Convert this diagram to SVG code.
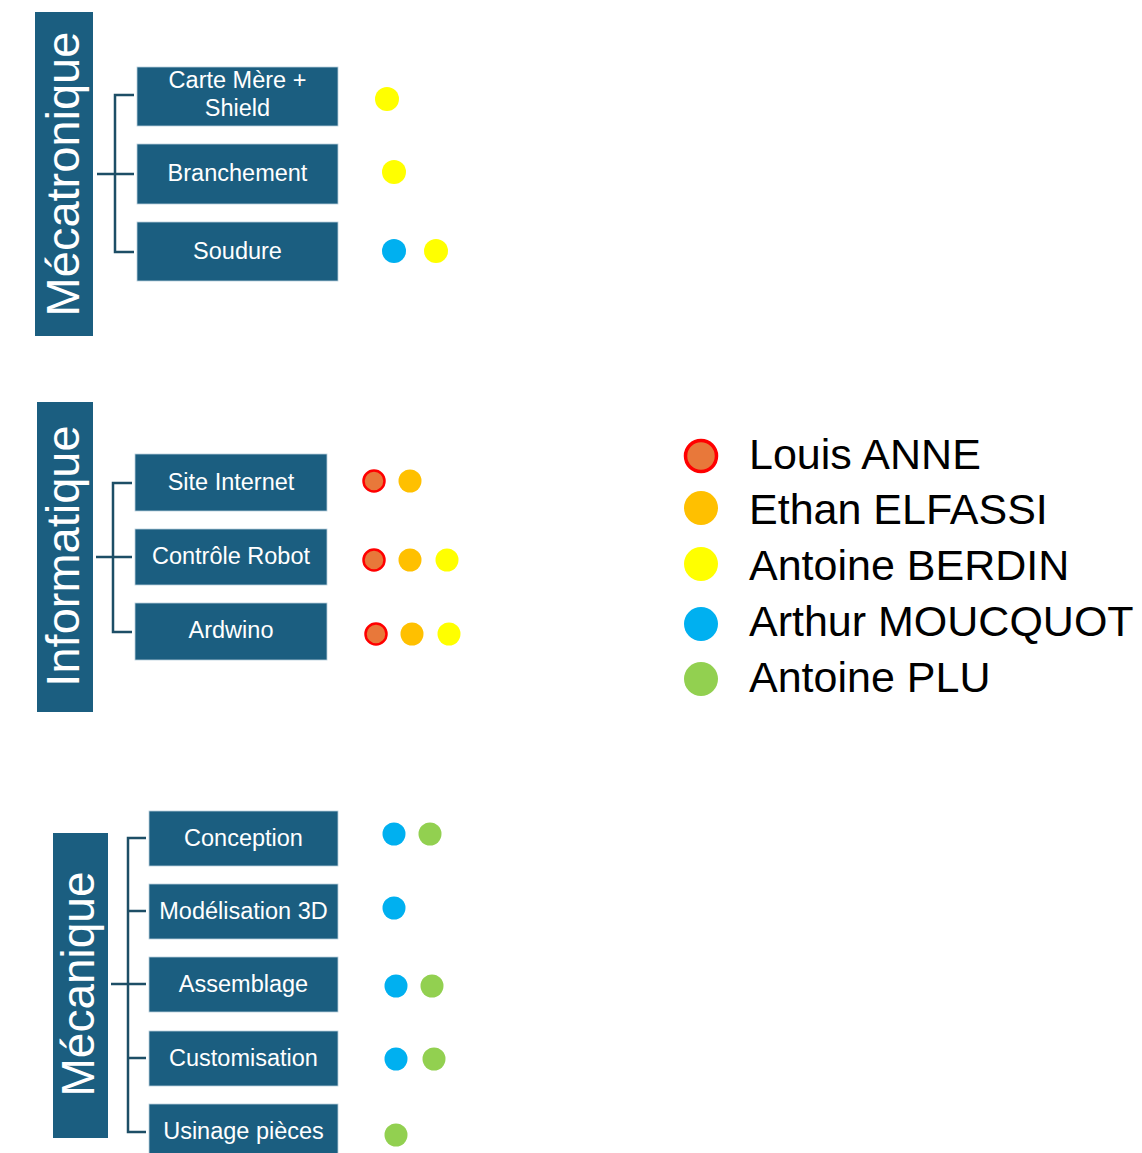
<svg xmlns="http://www.w3.org/2000/svg" width="1142" height="1153" viewBox="0 0 1142 1153">
<style>
.cat{fill:#1B5E80;}
.box{fill:#1B5E80;stroke:#b9cfdc;stroke-width:0.8;}
.ct{font-family:"Liberation Sans",Arial,sans-serif;font-size:47px;fill:#ffffff;text-anchor:middle;}
.bt{font-family:"Liberation Sans",Arial,sans-serif;font-size:23.5px;fill:#ffffff;text-anchor:middle;}
.lt{font-family:"Liberation Sans",Arial,sans-serif;font-size:43px;fill:#000000;}
.br{fill:none;stroke:#1D4E66;stroke-width:2.5;}
.y{fill:#FFFF00;}
.b{fill:#00B0F0;}
.g{fill:#92D050;}
.o{fill:#FFC000;}
.r{fill:#E8783A;stroke:#FF0000;stroke-width:2.5;}
.rl{fill:#E8783A;stroke:#FF0000;stroke-width:3.5;}
</style>

<g id="connectors">
  <path class="br" d="M134 95 H115 V252 H134 M97 174 H134"/>
  <path class="br" d="M132 483 H113 V632 H132 M96 557 H132"/>
  <path class="br" d="M146 838 H128 V1132 H146 M111 984 H146 M128 911 H146 M128 1058 H146"/>
</g>

<g id="mecatronique">
  <rect class="cat" x="35" y="12" width="58" height="324"/>
  <text class="ct" transform="translate(79 174) rotate(-90)">Mécatronique</text>
</g>
<g id="carte-mere">
  <rect class="box" x="137" y="67" width="201" height="59"/>
  <text class="bt" x="237.5" y="88">Carte Mère +</text>
  <text class="bt" x="237.5" y="116">Shield</text>
  <circle class="y" cx="387" cy="99" r="12"/>
</g>
<g id="branchement">
  <rect class="box" x="137" y="144" width="201" height="60"/>
  <text class="bt" x="237.5" y="181">Branchement</text>
  <circle class="y" cx="394" cy="172" r="12"/>
</g>
<g id="soudure">
  <rect class="box" x="137" y="222" width="201" height="59"/>
  <text class="bt" x="237.5" y="259">Soudure</text>
  <circle class="b" cx="394" cy="251" r="12"/>
  <circle class="y" cx="436" cy="251" r="12"/>
</g>

<g id="informatique">
  <rect class="cat" x="37" y="402" width="56" height="310"/>
  <text class="ct" transform="translate(79 556) rotate(-90)">Informatique</text>
</g>
<g id="site-internet">
  <rect class="box" x="135" y="454" width="192" height="57"/>
  <text class="bt" x="231" y="490">Site Internet</text>
  <circle class="r" cx="374" cy="481" r="10.5"/>
  <circle class="o" cx="410" cy="481" r="11.5"/>
</g>
<g id="controle-robot">
  <rect class="box" x="135" y="529" width="192" height="56"/>
  <text class="bt" x="231" y="564">Contrôle Robot</text>
  <circle class="r" cx="374" cy="560" r="10.5"/>
  <circle class="o" cx="410" cy="560" r="11.5"/>
  <circle class="y" cx="447" cy="560" r="11.5"/>
</g>
<g id="ardwino">
  <rect class="box" x="135" y="603" width="192" height="57"/>
  <text class="bt" x="231" y="638">Ardwino</text>
  <circle class="r" cx="376" cy="634" r="10.5"/>
  <circle class="o" cx="412" cy="634" r="11.5"/>
  <circle class="y" cx="449" cy="634" r="11.5"/>
</g>

<g id="mecanique">
  <rect class="cat" x="53" y="833" width="55" height="305"/>
  <text class="ct" transform="translate(94 984) rotate(-90)" style="font-size:46px">Mécanique</text>
</g>
<g id="conception">
  <rect class="box" x="149" y="811" width="189" height="55"/>
  <text class="bt" x="243.5" y="846">Conception</text>
  <circle class="b" cx="394" cy="834" r="11.5"/>
  <circle class="g" cx="430" cy="834" r="11.5"/>
</g>
<g id="modelisation">
  <rect class="box" x="149" y="884" width="189" height="55"/>
  <text class="bt" x="243.5" y="919">Modélisation 3D</text>
  <circle class="b" cx="394" cy="908" r="11.5"/>
</g>
<g id="assemblage">
  <rect class="box" x="149" y="957" width="189" height="55"/>
  <text class="bt" x="243.5" y="992">Assemblage</text>
  <circle class="b" cx="396" cy="986" r="11.5"/>
  <circle class="g" cx="432" cy="986" r="11.5"/>
</g>
<g id="customisation">
  <rect class="box" x="149" y="1031" width="189" height="55"/>
  <text class="bt" x="243.5" y="1066">Customisation</text>
  <circle class="b" cx="396" cy="1059" r="11.5"/>
  <circle class="g" cx="434" cy="1059" r="11.5"/>
</g>
<g id="usinage">
  <rect class="box" x="149" y="1104" width="189" height="55"/>
  <text class="bt" x="243.5" y="1139">Usinage pièces</text>
  <circle class="g" cx="396" cy="1135" r="11.5"/>
</g>

<g id="legend">
  <circle class="rl" cx="701" cy="456" r="15.5"/>
  <text class="lt" x="749" y="469">Louis ANNE</text>
  <circle class="o" cx="701" cy="508" r="17"/>
  <text class="lt" x="749" y="524">Ethan ELFASSI</text>
  <circle class="y" cx="701" cy="564" r="17"/>
  <text class="lt" x="749" y="580">Antoine BERDIN</text>
  <circle class="b" cx="701" cy="624" r="17"/>
  <text class="lt" x="749" y="636">Arthur MOUCQUOT</text>
  <circle class="g" cx="701" cy="679" r="17"/>
  <text class="lt" x="749" y="692">Antoine PLU</text>
</g>
</svg>
